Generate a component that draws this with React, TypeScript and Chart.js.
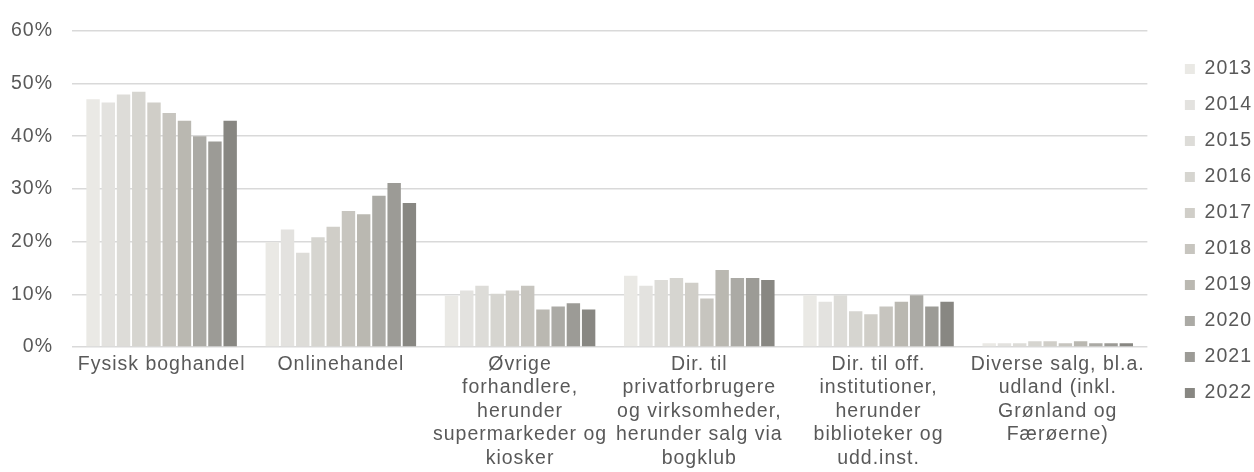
import React, { useEffect, useRef } from 'react';
import { Chart, registerables } from 'chart.js';

Chart.register(...registerables);

const categories: (string | string[])[] = [
  'Fysisk boghandel',
  'Onlinehandel',
  ['Øvrige', 'forhandlere,', 'herunder', 'supermarkeder og', 'kiosker'],
  ['Dir. til', 'privatforbrugere', 'og virksomheder,', 'herunder salg via', 'bogklub'],
  ['Dir. til off.', 'institutioner,', 'herunder', 'biblioteker og', 'udd.inst.'],
  ['Diverse salg, bl.a.', 'udland (inkl.', 'Grønland og', 'Færøerne)'],
];

const years = ['2013', '2014', '2015', '2016', '2017', '2018', '2019', '2020', '2021', '2022'];

const colors = [
  '#EAE9E5', '#E3E2DF', '#DDDCD8', '#D6D5D0', '#D0CEC8',
  '#C7C5BF', '#BAB8B1', '#ABAAA5', '#9C9B96', '#888782',
];

const v2013 = [47.0, 19.9, 9.7, 13.5, 9.8, 0.7];
const v2014 = [46.4, 22.3, 10.7, 11.6, 8.6, 0.7];
const v2015 = [47.9, 17.9, 11.6, 12.7, 9.8, 0.7];
const v2016 = [48.4, 20.8, 10.1, 13.1, 6.8, 1.1];
const v2017 = [46.4, 22.8, 10.7, 12.2, 6.2, 1.1];
const v2018 = [44.4, 25.8, 11.6, 9.2, 7.7, 0.7];
const v2019 = [42.9, 25.2, 7.1, 14.6, 8.6, 1.1];
const v2020 = [40.0, 28.7, 7.7, 13.1, 9.8, 0.7];
const v2021 = [39.0, 31.1, 8.3, 13.1, 7.7, 0.7];
const v2022 = [42.9, 27.3, 7.1, 12.7, 8.6, 0.7];

const series = [v2013, v2014, v2015, v2016, v2017, v2018, v2019, v2020, v2021, v2022];

const yTickStep = 10;
const yMax = 60;

const TEXT = '#595959';
const FONT_SIZE = 19.5;

const spacingPlugin = {
  id: 'letterSpacing',
  beforeUpdate(chart: any) {
    chart.ctx.letterSpacing = '1px';
  },
  beforeDraw(chart: any) {
    chart.ctx.letterSpacing = '1px';
  },
};

const legendShift = {
  id: 'legendShift',
  afterLayout(chart: any) {
    const l = chart.legend;
    if (l) {
      l.left += 21;
      l.right += 21;
      l.top -= 16;
      l.bottom -= 16;
    }
  },
};

export default function App() {
  const ref = useRef<HTMLCanvasElement | null>(null);

  useEffect(() => {
    if (!ref.current) return;
    Chart.defaults.font.family = '"Liberation Sans", Arial, sans-serif';
    Chart.defaults.font.size = FONT_SIZE;
    Chart.defaults.color = TEXT;

    const chart = new Chart(ref.current, {
      type: 'bar',
      data: {
        labels: categories as any,
        datasets: years.map((y, i) => ({
          label: y,
          data: series[i],
          backgroundColor: colors[i],
          borderWidth: 0,
          categoryPercentage: 0.85,
          barPercentage: 0.88,
        })),
      },
      options: {
        responsive: false,
        animation: false,
        layout: { padding: { top: 22, right: 13, bottom: 0, left: 0 } },
        plugins: {
          legend: {
            position: 'right',
            labels: {
              boxWidth: 10,
              boxHeight: 10,
              padding: 16.5,
              color: TEXT,
              font: { size: FONT_SIZE },
            },
          },
          tooltip: { enabled: false },
          title: { display: false },
        },
        scales: {
          x: {
            grid: { display: false, drawTicks: false },
            border: { display: false },
            ticks: {
              maxRotation: 0,
              minRotation: 0,
              autoSkip: false,
              padding: 6,
              color: TEXT,
              font: { size: FONT_SIZE, lineHeight: 1.2 },
            },
            afterFit(scale: any) {
              scale.height = 125;
            },
          },
          y: {
            min: 0,
            max: yMax,
            grid: { color: '#D9D9D9', lineWidth: 1.5, drawTicks: false },
            border: { display: false },
            ticks: {
              stepSize: yTickStep,
              padding: 19,
              color: TEXT,
              font: { size: FONT_SIZE },
              callback: (v: any) => `${v}%`,
            },
            afterFit(scale: any) {
              scale.width = 72;
            },
          },
        },
      },
      plugins: [spacingPlugin, legendShift],
    });
    return () => chart.destroy();
  }, []);

  return (
    <div style={{ position: 'fixed', left: 0, top: 0, width: 1254, height: 472, background: '#fff' }}>
      <canvas ref={ref} width={1254} height={472} style={{ display: 'block' }} />
    </div>
  );
}
